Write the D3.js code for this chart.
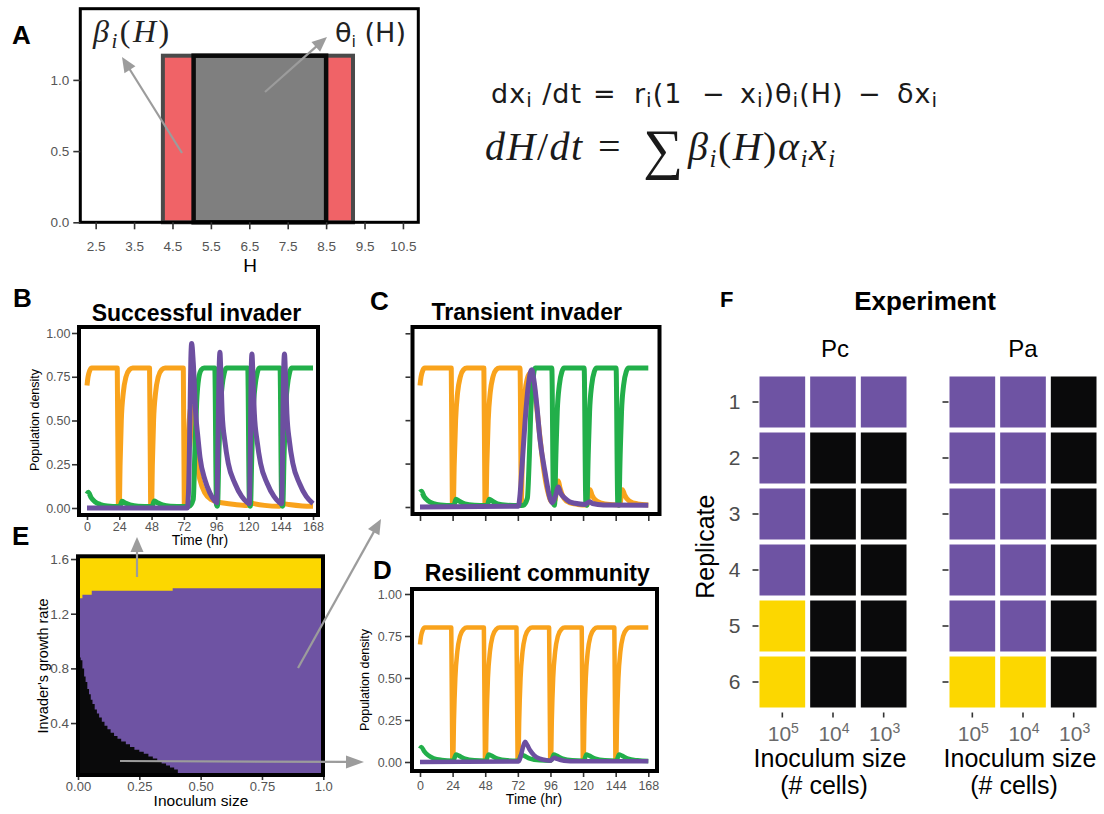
<!DOCTYPE html>
<html>
<head>
<meta charset="utf-8">
<script src="https://cdn.jsdelivr.net/npm/d3@7"></script>
<style>
  body { margin: 0; background: #fff; }
  svg { display: block; }
  text { white-space: pre; }
</style>
</head>
<body>
<svg id="fig" width="1104" height="814"></svg>
<script>
// ---------------- data ----------------
// Panel A: response windows along the environmental axis H
const hTicks = [2.5, 3.5, 4.5, 5.5, 6.5, 7.5, 8.5, 9.5, 10.5];
const aYTicks = [0, 0.5, 1.0];
const betaRange = [4.25, 9.2];
const thetaRange = [5.05, 8.5];
const windowHeight = 1.17;

// Panels B-D: time courses, [time (hr), population density]
const timeTicks = [0, 24, 48, 72, 96, 120, 144, 168];
const densityTicks = [0, 0.25, 0.5, 0.75, 1];

const B_orange = [[0,0.70],[0.8,0.75],[2,0.785],[3.5,0.80],[22.5,0.80],[23.3,0.02],[24,0.01],[24.6,0.25],[25.5,0.5],[27,0.66],[29,0.75],[31.5,0.79],[34,0.80],
  [46.5,0.80],[47.3,0.02],[48,0.01],[48.6,0.25],[49.5,0.5],[51,0.66],[53,0.75],[55.5,0.79],[58,0.80],
  [71.6,0.80],[72.3,0.02],[73,0.01],[74.5,0.2],[76,0.5],[77.5,0.58],[79,0.5],[80.5,0.35],[82,0.24],[84,0.16],[87.7,0.085],[92.7,0.047],[96,0.035],[100,0.03],[110,0.02],[119,0.015],[121,0.03],[124,0.025],[132,0.015],[143,0.01],[145.5,0.025],[150,0.02],[160,0.012],[168,0.01]];
const B_green = [[0,0.08],[1,0.09],[3,0.06],[6,0.035],[10,0.02],[15,0.012],[23.5,0.008],[24.5,0.01],[26,0.038],[28,0.03],[32,0.018],[38,0.01],[47.5,0.008],[48.5,0.01],[50,0.04],[52,0.032],[56,0.018],[62,0.01],[72,0.008],
  [76,0.01],[79,0.05],[80.3,0.35],[81.5,0.6],[83,0.74],[85,0.79],[87,0.80],
  [95,0.80],[96.2,0.02],[97,0.01],[98,0.3],[99,0.55],[100.5,0.7],[102,0.77],[103.5,0.80],
  [119.5,0.80],[120.7,0.02],[121.5,0.01],[122.5,0.3],[123.5,0.55],[125,0.7],[126.5,0.77],[128,0.80],
  [143.5,0.80],[144.7,0.02],[145.5,0.01],[146.5,0.3],[147.5,0.55],[149,0.7],[150.5,0.77],[152,0.80],[168,0.80]];
const B_purple = [[0,0.0],[74.5,0.0],[75.5,0.1],[76.5,0.5],[77.2,0.85],[77.8,0.94],[79,0.83],[80.8,0.54],[82.5,0.4],[84,0.29],[87.7,0.16],[91.4,0.085],[95,0.04],[96.5,0.03],
  [97.4,0.4],[98.1,0.75],[98.8,0.89],[99.6,0.75],[100.5,0.54],[102.5,0.38],[105,0.256],[110,0.14],[115,0.066],[118.6,0.035],[120.7,0.025],
  [121.5,0.4],[122,0.75],[122.6,0.88],[123.4,0.75],[124.4,0.54],[126.5,0.38],[129,0.256],[134,0.14],[139,0.066],[142.5,0.035],[144.7,0.025],
  [145.5,0.4],[146.1,0.75],[146.8,0.88],[147.6,0.75],[148.6,0.54],[150.5,0.38],[153,0.256],[158,0.14],[163,0.066],[168,0.025]];

const C_orange = [[0,0.70],[0.8,0.75],[2,0.785],[3.5,0.80],[23,0.80],[23.8,0.02],[24.5,0.01],[25.2,0.25],[26.2,0.5],[27.7,0.66],[29.7,0.75],[32,0.79],[34.5,0.80],
  [47,0.80],[47.8,0.02],[48.5,0.01],[49.2,0.25],[50.2,0.5],[51.7,0.66],[53.7,0.75],[56,0.79],[58.5,0.80],
  [73.6,0.80],[74.6,0.03],[75.2,0.25],[76,0.5],[77.3,0.66],[79,0.74],[81,0.77],[83,0.74],[85.5,0.6],[88,0.42],[91,0.22],[94,0.09],[97,0.03],
  [99.5,0.04],[100.5,0.11],[101.8,0.15],[103,0.11],[106,0.05],[110,0.025],[116,0.015],[123,0.012],[124,0.06],[125.2,0.1],[126.5,0.07],[130,0.035],[136,0.018],
  [147,0.012],[148,0.06],[149,0.1],[150.5,0.07],[154,0.035],[160,0.018],[168,0.012]];
const C_green = [[0,0.085],[1,0.09],[3,0.06],[6,0.035],[10,0.02],[15,0.012],[24,0.008],[25,0.01],[26.5,0.045],[28.5,0.035],[33,0.018],[40,0.01],[48.5,0.008],[49.5,0.01],[51,0.045],[53,0.035],[57,0.018],[64,0.01],[73,0.008],
  [76,0.01],[79,0.05],[80.5,0.3],[81.5,0.55],[83,0.72],[84.7,0.80],
  [97,0.80],[98.2,0.02],[99,0.01],[100,0.3],[101,0.55],[102.5,0.7],[104.5,0.78],[106,0.80],
  [120.8,0.80],[122,0.02],[122.8,0.01],[123.8,0.3],[124.8,0.55],[126.3,0.7],[128.3,0.78],[130,0.80],
  [144.3,0.80],[145.5,0.02],[146.3,0.01],[147.3,0.3],[148.3,0.55],[149.8,0.7],[151.8,0.78],[153.5,0.80],[168,0.80]];
const C_purple = [[0,0.0],[72.4,0.005],[73.5,0.06],[74.8,0.2],[77.3,0.49],[79.7,0.7],[82.2,0.79],[84,0.72],[85.9,0.59],[88.3,0.39],[92,0.2],[95.7,0.05],[97.4,0.025],
  [99.5,0.06],[101.8,0.115],[103.5,0.08],[106.7,0.05],[110,0.03],[114,0.022],[121.4,0.015],[123.5,0.025],[125,0.03],[127,0.02],[135,0.012],[168,0.01]];

const D_orange = [[0,0.70],[0.8,0.75],[2,0.785],[3.5,0.80],
  [23,0.80],[23.8,0.02],[24.4,0.01],[25,0.25],[26,0.5],[27.5,0.66],[29.5,0.75],[32,0.79],[34.5,0.80],
  [47,0.80],[47.8,0.02],[48.4,0.01],[49,0.25],[50,0.5],[51.5,0.66],[53.5,0.75],[56,0.79],[58.5,0.80],
  [71,0.80],[71.8,0.02],[72.4,0.01],[73,0.25],[74,0.5],[75.5,0.66],[77.5,0.75],[80,0.79],[82.5,0.80],
  [95,0.80],[95.8,0.02],[96.4,0.01],[97,0.25],[98,0.5],[99.5,0.66],[101.5,0.75],[104,0.79],[106.5,0.80],
  [119,0.80],[119.8,0.02],[120.4,0.01],[121,0.25],[122,0.5],[123.5,0.66],[125.5,0.75],[128,0.79],[130.5,0.80],
  [143,0.80],[143.8,0.02],[144.4,0.01],[145,0.25],[146,0.5],[147.5,0.66],[149.5,0.75],[152,0.79],[154.5,0.80],[168,0.80]];
const D_green = [[0,0.08],[1,0.09],[3,0.065],[6,0.04],[10,0.022],[16,0.012],[23.8,0.008],
  [24.8,0.012],[26.5,0.045],[28.5,0.038],[33,0.02],[40,0.01],[47.8,0.008],
  [48.8,0.012],[50.5,0.045],[52.5,0.038],[57,0.02],[64,0.01],[71.8,0.008],
  [72.8,0.012],[74.5,0.045],[76.5,0.038],[81,0.02],[88,0.01],[95.8,0.008],
  [96.8,0.012],[98.5,0.045],[100.5,0.038],[105,0.02],[112,0.01],[119.8,0.008],
  [120.8,0.012],[122.5,0.045],[124.5,0.038],[129,0.02],[136,0.01],[143.8,0.008],
  [144.8,0.012],[146.5,0.045],[148.5,0.038],[153,0.02],[160,0.01],[168,0.006]];
const D_purple = [[0,0.0],[72.5,0.003],[74,0.03],[75.5,0.08],[77.3,0.12],[79,0.1],[81,0.07],[84,0.04],[88,0.02],[93,0.01],[96,0.008],[97.5,0.018],[99,0.025],[101,0.018],[106,0.008],[115,0.004],[168,0.004]];

// Panel E: outcome map over inoculum size x invader growth rate
const eXTicks = [0, 0.25, 0.5, 0.75, 1];
const eXLabels = ["0.00", "0.25", "0.50", "0.75", "1.0"];
const eYTicks = [0.4, 0.8, 1.2, 1.6];
// lower edge of the "successful" region, [inoculum, growth rate]
const E_upper = [[0,1.314],[0.018,1.339],[0.056,1.368],[0.386,1.387],[1,1.387]];
// upper edge of the "resilient" region, [inoculum, growth rate]
const E_lower = [[0,0.88],[0.011,0.86],[0.018,0.80],[0.025,0.74],[0.031,0.70],[0.038,0.65],[0.045,0.61],[0.052,0.57],[0.059,0.54],[0.068,0.50],[0.077,0.47],[0.086,0.44],[0.097,0.41],[0.108,0.38],[0.120,0.355],[0.133,0.33],[0.147,0.305],[0.161,0.285],[0.176,0.265],[0.195,0.245],[0.212,0.225],[0.230,0.205],[0.250,0.19],[0.268,0.175],[0.287,0.155],[0.305,0.14],[0.323,0.12],[0.341,0.105],[0.359,0.09],[0.375,0.075],[0.392,0.06],[0.407,0.02]];

// Panel F: experimental outcomes per replicate and inoculum (S = successful, T = transient, R = resilient)
const inoculumExp = ["5", "4", "3"];
const replicates = [1, 2, 3, 4, 5, 6];
const outcomePc = [["T","T","T"],["T","R","R"],["T","R","R"],["T","R","R"],["S","R","R"],["S","R","R"]];
const outcomePa = [["T","T","R"],["T","T","R"],["T","T","R"],["T","T","R"],["T","T","R"],["S","S","R"]];

// ---------------- styling ----------------
const SANS = "'Liberation Sans', Arial, Helvetica, sans-serif";
const SERIF = "'Liberation Serif', 'Times New Roman', serif";
const EQ_SANS = "'DejaVu Sans', Verdana, sans-serif";
const COL = {
  orange: "#F9A31C", green: "#22AF4A", purple: "#6D4FA0",
  outcome: { S: "#FCD700", T: "#6E53A3", R: "#0A0A0B" },
  red: "#F06367", grey: "#7F7F7F", arrow: "#9C9C9C", tickText: "#555555"
};

const svg = d3.select("#fig");

function addText(x, y, str, o = {}) {
  const t = svg.append("text").attr("x", x).attr("y", y).text(str)
    .attr("font-family", o.family || SANS).attr("font-size", o.size || 13)
    .attr("font-weight", o.weight || "normal").attr("fill", o.fill || "#000")
    .attr("text-anchor", o.anchor || "middle");
  if (o.rotate) t.attr("transform", `rotate(${o.rotate},${x},${y})`);
  return t;
}

function frameRect(box, sw, color = "#000") {
  svg.append("rect")
    .attr("x", box[0] + sw / 2).attr("y", box[1] + sw / 2)
    .attr("width", box[2] - box[0] - sw).attr("height", box[3] - box[1] - sw)
    .attr("fill", "none").attr("stroke", color).attr("stroke-width", sw);
}

function styleAxis(g, size, fill = COL.tickText) {
  g.attr("font-family", SANS).attr("font-size", size);
  g.select(".domain").remove();
  g.selectAll(".tick line").attr("stroke", "#333").attr("stroke-width", 1.6);
  g.selectAll(".tick text").attr("fill", fill);
}

function arrow(x1, y1, x2, y2, len = 15, half = 6.5) {
  const dx = x2 - x1, dy = y2 - y1, L = Math.hypot(dx, dy);
  const ux = dx / L, uy = dy / L;
  const bx = x2 - ux * len, by = y2 - uy * len;
  svg.append("line").attr("x1", x1).attr("y1", y1).attr("x2", bx + ux * 2).attr("y2", by + uy * 2)
    .attr("stroke", COL.arrow).attr("stroke-width", 2.2);
  svg.append("polygon")
    .attr("points", [[x2, y2], [bx - uy * half, by + ux * half], [bx + uy * half, by - ux * half]].map(p => p.join(",")).join(" "))
    .attr("fill", COL.arrow);
}

// formula text: pieces with an x start a new group, others follow on; sub pieces sit lower and smaller
function formula(pieces, base, o) {
  const t = svg.append("text").attr("font-family", o.family).attr("font-size", o.size)
    .attr("fill", o.fill || "#1a1a1a").attr("letter-spacing", o.spacing || 0);
  pieces.forEach(p => {
    const ts = t.append("tspan").text(p.t);
    if (p.x !== undefined) ts.attr("x", p.x);
    ts.attr("y", base + (p.sub ? o.subShift : 0) + (p.shift || 0));
    if (p.sub) ts.attr("font-size", o.subSize);
    if (p.size) ts.attr("font-size", p.size);
    if (p.it) ts.attr("font-style", "italic");
  });
  return t;
}

// ---------------- Panel A ----------------
{
  const x = d3.scaleLinear().domain([2.1, 10.9]).range([80.3, 418.3]);
  const y = d3.scaleLinear().domain([0, 1.5]).range([222.3, 8.7]);
  svg.append("rect")
    .attr("x", x(betaRange[0])).attr("y", y(windowHeight))
    .attr("width", x(betaRange[1]) - x(betaRange[0])).attr("height", y(0) - y(windowHeight))
    .attr("fill", COL.red).attr("stroke", "#4A4A4A").attr("stroke-width", 4);
  svg.append("rect")
    .attr("x", x(thetaRange[0])).attr("y", y(windowHeight))
    .attr("width", x(thetaRange[1]) - x(thetaRange[0])).attr("height", y(0) - y(windowHeight))
    .attr("fill", COL.grey).attr("stroke", "#0A0A0A").attr("stroke-width", 4.5);
  frameRect([78.8, 7.2, 419.8, 223.8], 3);
  const xa = svg.append("g").attr("transform", "translate(0,222.3)")
    .call(d3.axisBottom(x).tickValues(hTicks).tickFormat(d3.format(".1f")).tickSize(7).tickPadding(12));
  styleAxis(xa, 13.5);
  const ya = svg.append("g").attr("transform", "translate(80.3,0)")
    .call(d3.axisLeft(y).tickValues(aYTicks).tickFormat(d3.format(".1f")).tickSize(7).tickPadding(4));
  styleAxis(ya, 13.5);
  addText(250, 272, "H", { size: 19 });

  // beta_i(H) label in math italic
  formula([
    { x: 93, t: "β", it: 1 }, { t: "i", it: 1, sub: 1 },
    { t: "(" }, { t: "H", it: 1 }, { t: ")" }
  ], 42, { family: SERIF, size: 32, subSize: 21, subShift: 6, spacing: 2.5, fill: "#222" });

  const tt = svg.append("text").attr("x", 335).attr("y", 42).attr("font-family", EQ_SANS).attr("font-size", 27).attr("fill", "#222");
  tt.append("tspan").text("θ");
  tt.append("tspan").attr("font-size", 16).attr("dy", 5).text("i");
  tt.append("tspan").attr("dy", -5).text(" (H)");

  addText(12, 44, "A", { size: 26, weight: "bold", anchor: "start" });
}

// ---------------- Equations ----------------
formula([
  { x: 491, t: "dx" }, { t: "i", sub: 1 }, { t: " /dt" },
  { x: 593, t: "=" },
  { x: 634, t: "r" }, { t: "i", sub: 1 }, { t: "(1" },
  { x: 702, t: "−" },
  { x: 740, t: "x" }, { t: "i", sub: 1 }, { t: ")θ" }, { t: "i", sub: 1 }, { t: "(H)" },
  { x: 858, t: "−" },
  { x: 897, t: "δx" }, { t: "i", sub: 1 }
], 103, { family: EQ_SANS, size: 27, subSize: 20, subShift: 4, spacing: 1 });

formula([
  { x: 485, t: "dH", it: 1 }, { t: "/" }, { t: "dt", it: 1 },
  { x: 598, t: "=" },
  { x: 643, t: "∑", size: 56, shift: 8 },
  { x: 688, t: "β", it: 1 }, { t: "i", it: 1, sub: 1 },
  { t: "(" }, { t: "H", it: 1 }, { t: ")" },
  { t: "α", it: 1 }, { t: "i", it: 1, sub: 1 },
  { t: "x", it: 1 }, { t: "i", it: 1, sub: 1 }
], 160, { family: SERIF, size: 40, subSize: 25, subShift: 7, spacing: 1.5 });

// ---------------- Panels B, C, D ----------------
function timePanel(o) {
  const x = d3.scaleLinear().domain([0, 168]).range(o.xr);
  const y = d3.scaleLinear().domain([0, 1]).range(o.yr);
  const line = d3.line().x(d => x(d[0])).y(d => y(d[1])).curve(d3.curveMonotoneX);
  [[o.orange, COL.orange], [o.green, COL.green], [o.purple, COL.purple]].forEach(([data, c]) => {
    svg.append("path").datum(data).attr("d", line).attr("fill", "none")
      .attr("stroke", c).attr("stroke-width", o.lw).attr("stroke-linejoin", "round");
  });
  frameRect(o.box, 4);
  const ya = svg.append("g").attr("transform", `translate(${o.box[0]},0)`)
    .call(d3.axisLeft(y).tickValues(densityTicks).tickSize(5).tickPadding(o.yPad || 2)
      .tickFormat(o.yLabels ? d3.format(".2f") : ""));
  styleAxis(ya, 12.5);
  const xa = svg.append("g").attr("transform", `translate(0,${o.box[3]})`)
    .call(d3.axisBottom(x).tickValues(timeTicks).tickSize(o.xTick || 3).tickPadding(o.xPad || 2)
      .tickFormat(o.xLabels ? d => d : ""));
  styleAxis(xa, 12.5);
  if (o.yTitle) addText(o.yTitle[0], o.yTitle[1], "Population density", { size: 12.5, rotate: -90 });
  if (o.xTitle) addText(o.xTitle[0], o.xTitle[1], "Time (hr)", { size: 14 });
  addText(o.title[0], o.title[1], o.title[2], { size: 23, weight: "bold" });
}

timePanel({
  orange: B_orange, green: B_green, purple: B_purple, lw: 5,
  box: [77, 325, 320, 517], xr: [87, 313], yr: [508, 333],
  yLabels: true, xLabels: true, yPad: 1.5,
  yTitle: [39, 420], xTitle: [200, 545],
  title: [196.5, 321, "Successful invader"]
});
timePanel({
  orange: C_orange, green: C_green, purple: C_purple, lw: 5,
  box: [410.5, 325, 661.5, 516], xr: [420, 648.3], yr: [507, 333.3],
  xTick: 5, title: [526.7, 320, "Transient invader"]
});
timePanel({
  orange: D_orange, green: D_green, purple: D_purple, lw: 4.5,
  box: [410, 587, 659, 773], xr: [420, 648.3], yr: [762, 594],
  yLabels: true, xLabels: true, yPad: 3, xTick: 4, xPad: 4,
  yTitle: [369, 680], xTitle: [534, 804],
  title: [537.3, 581, "Resilient community"]
});
addText(13, 307, "B", { size: 26, weight: "bold", anchor: "start" });
addText(370, 310, "C", { size: 26, weight: "bold", anchor: "start" });
addText(373, 578.5, "D", { size: 26, weight: "bold", anchor: "start" });

// ---------------- Panel E ----------------
{
  const x = d3.scaleLinear().domain([0, 1]).range([78, 323.3]);
  const y = d3.scaleLinear().domain([0.02, 1.62]).range([775, 556.3]);
  svg.append("rect").attr("x", x(0)).attr("y", y(1.62)).attr("width", x(1) - x(0)).attr("height", y(0.02) - y(1.62))
    .attr("fill", COL.outcome.T);
  svg.append("path").datum(E_upper)
    .attr("d", d3.area().x(d => x(d[0])).y0(y(1.62)).y1(d => y(d[1])).curve(d3.curveStepAfter))
    .attr("fill", COL.outcome.S);
  svg.append("path").datum(E_lower)
    .attr("d", d3.area().x(d => x(d[0])).y0(y(0.02)).y1(d => y(d[1])).curve(d3.curveStepAfter))
    .attr("fill", COL.outcome.R);
  frameRect([76, 554.3, 325, 777], 4);
  const ya = svg.append("g").attr("transform", "translate(76,0)")
    .call(d3.axisLeft(y).tickValues(eYTicks).tickFormat(d3.format(".1f")).tickSize(5).tickPadding(2));
  styleAxis(ya, 13.5);
  const xa = svg.append("g").attr("transform", "translate(0,777)")
    .call(d3.axisBottom(x).tickValues(eXTicks).tickFormat((d, i) => eXLabels[i]).tickSize(3).tickPadding(1.5));
  styleAxis(xa, 13);
  addText(48, 666, "Invader's growth rate", { size: 14.5, rotate: -90 });
  addText(201, 806, "Inoculum size", { size: 15.5 });
  addText(12, 545, "E", { size: 26, weight: "bold", anchor: "start" });
}

// ---------------- Panel F ----------------
{
  const y = d3.scaleBand().domain(replicates).range([374, 710]);
  function tilePanel(outcomes, x0, x1, withLabels, label, labelX, cellsX) {
    const x = d3.scaleBand().domain(inoculumExp).range([x0, x1]);
    outcomes.forEach((row, ri) => row.forEach((oc, ci) => {
      svg.append("rect")
        .attr("x", x(inoculumExp[ci]) + 2.5).attr("y", y(replicates[ri]) + 2.5)
        .attr("width", x.bandwidth() - 5).attr("height", y.bandwidth() - 5)
        .attr("fill", COL.outcome[oc]);
    }));
    const ya = svg.append("g").attr("transform", `translate(${x0 + 1.5},0)`)
      .call(d3.axisLeft(y).tickSize(6).tickPadding(12).tickFormat(withLabels ? d => d : ""));
    styleAxis(ya, 21, "#4D4D4D");
    const xa = svg.append("g").attr("transform", "translate(0,712.5)")
      .call(d3.axisBottom(x).tickSize(5).tickFormat(""));
    styleAxis(xa, 20);
    inoculumExp.forEach(e => {
      const t = svg.append("text").attr("x", x(e) + x.bandwidth() / 2 + 1).attr("y", 741)
        .attr("text-anchor", "middle").attr("font-family", SANS).attr("font-size", 21).attr("fill", "#6a6a6a");
      t.append("tspan").text("10");
      t.append("tspan").attr("font-size", 14).attr("dy", -8).text(e);
    });
    addText(labelX, 357, label, { size: 24 });
    addText((x0 + x1) / 2 - 3, 767, "Inoculum size", { size: 25 });
    addText(cellsX, 794, "(# cells)", { size: 25 });
  }
  tilePanel(outcomePc, 757, 909, true, "Pc", 835, 824);
  tilePanel(outcomePa, 947, 1099, false, "Pa", 1023, 1014);
  addText(714, 546.7, "Replicate", { size: 25, rotate: -90 });
  addText(925, 310, "Experiment", { size: 26, weight: "bold" });
  addText(720, 306.7, "F", { size: 22, weight: "bold", anchor: "start" });
}

// ---------------- arrows ----------------
arrow(182, 153, 122, 57);
arrow(265, 92, 327, 37);
arrow(137, 577, 137, 537);
arrow(298, 668, 381, 519);
arrow(120, 761, 364, 762, 18, 6.5);
</script>
</body>
</html>
